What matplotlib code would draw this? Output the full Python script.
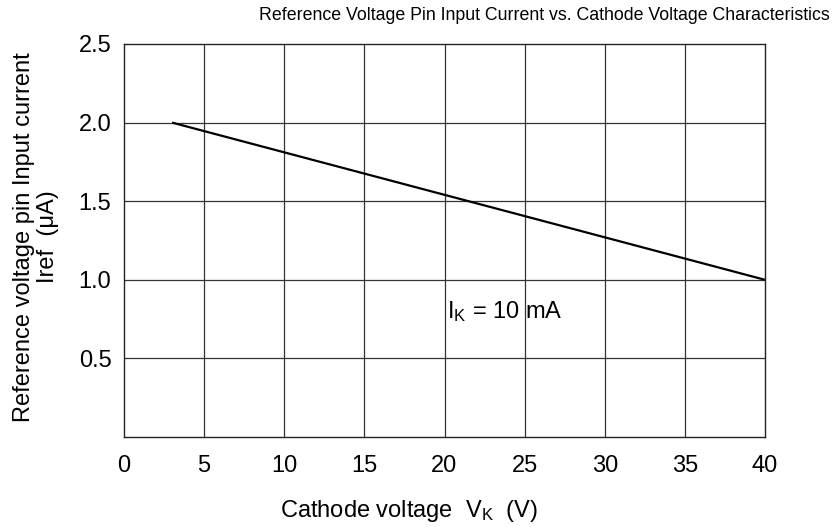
import matplotlib
matplotlib.use("Agg")
import matplotlib.pyplot as plt
from matplotlib import font_manager

names = {f.name for f in font_manager.fontManager.ttflist}
base = "Liberation Sans" if "Liberation Sans" in names else "DejaVu Sans"
plt.rcParams['font.family'] = [base, 'DejaVu Sans']
plt.rcParams['mathtext.fontset'] = 'custom'
plt.rcParams['mathtext.rm'] = base
plt.rcParams['mathtext.it'] = base

cathode_voltage = [3, 40]
iref = [2.0, 1.0]
x_ticks = [0, 5, 10, 15, 20, 25, 30, 35, 40]
y_ticks = [0.5, 1.0, 1.5, 2.0, 2.5]
y_grid = [0.5, 1.0, 1.5, 2.0]

FS = 17
fig = plt.figure(figsize=(8.33, 5.27), dpi=100)
ax = fig.add_axes([124/833, 1-437/527, 641/833, 393/527])
ax.plot(cathode_voltage, iref, color='black', lw=1.6, solid_capstyle='butt')
ax.set_xlim(0, 40)
ax.set_ylim(0, 2.5)
ax.set_xticks(x_ticks)
ax.set_yticks(y_ticks)
ax.set_yticklabels([f"{v:.1f}" for v in y_ticks])
for v in x_ticks[1:-1]:
    ax.axvline(v, color='#333333', lw=0.9, zorder=0)
for v in y_grid:
    ax.axhline(v, color='#333333', lw=0.9, zorder=0)
ax.tick_params(axis='both', length=0, labelsize=FS)
ax.tick_params(axis='x', pad=13)
ax.tick_params(axis='y', pad=9)
for s in ax.spines.values():
    s.set_color('#222222')
    s.set_linewidth(1.0)

ax.text(20.15, 0.80, r"I$_\mathrm{K}$ = 10 mA", fontsize=FS, ha='left', va='center')
ax.set_xlabel(r"Cathode voltage  V$_\mathrm{K}$  (V)", fontsize=FS, labelpad=15,
              x=(409-124)/641)
ax.set_ylabel("Reference voltage pin Input current\nIref  (μA)", fontsize=FS, labelpad=14,
              linespacing=1.15, y=(437-237)/393)
fig.text(544/833, 1-16/527, "Reference Voltage Pin Input Current vs. Cathode Voltage Characteristics",
         fontsize=12.8, ha='center', va='center')
fig.savefig("out.png", dpi=100)
